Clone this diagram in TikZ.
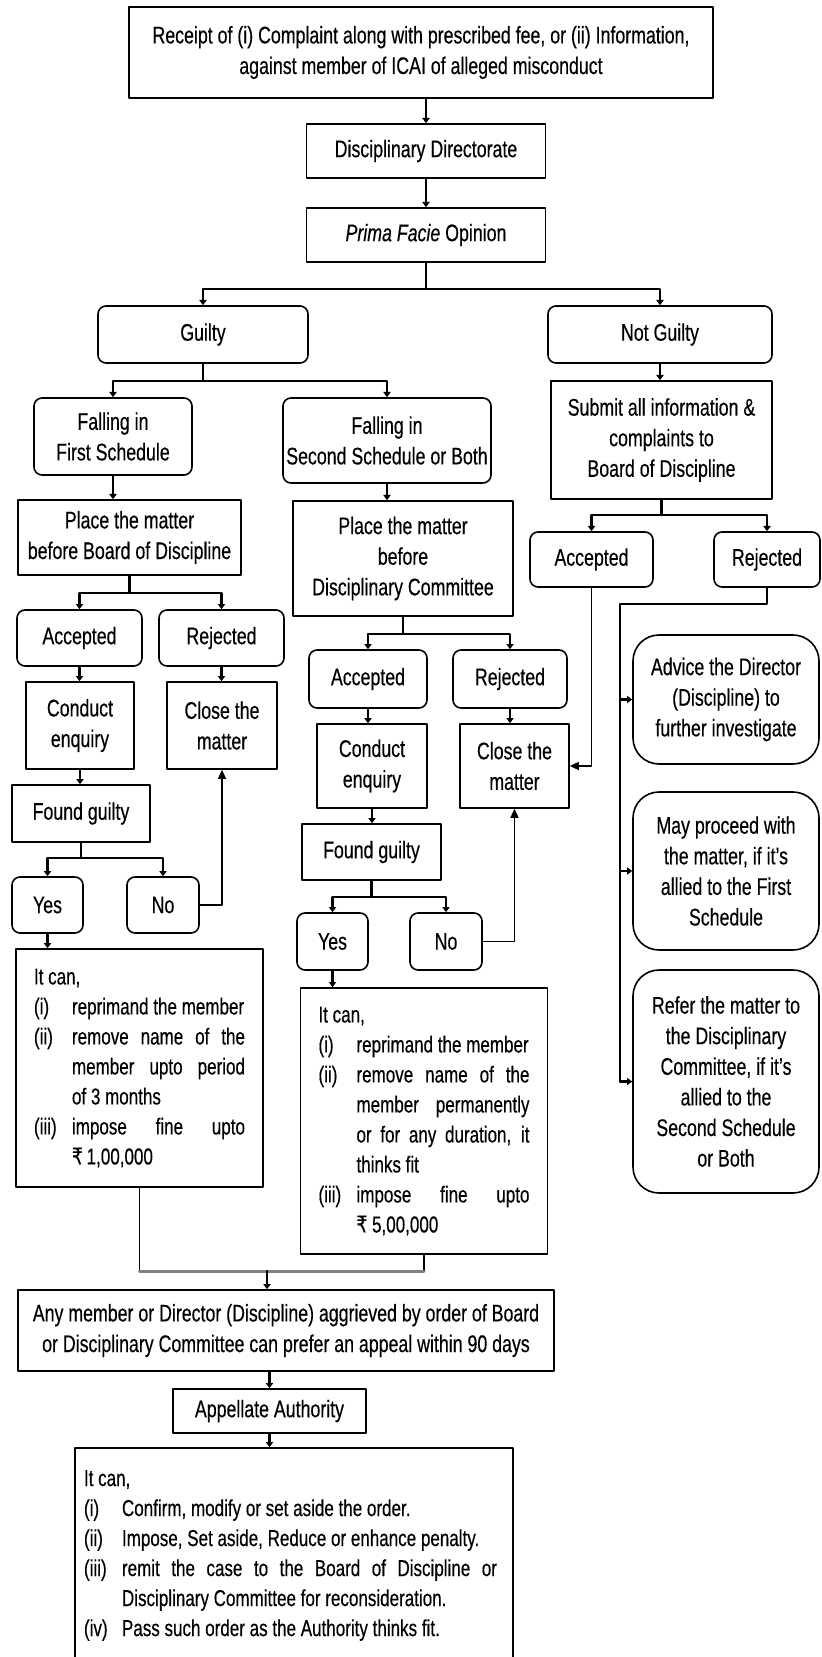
\documentclass[tikz,border=0pt]{standalone}
\usepackage{fontspec}
\setmainfont{Liberation Sans}[FakeStretch=0.74,FakeBold=0.4]
\newfontfamily\rupee{DejaVu Sans}[FakeStretch=0.74,FakeBold=0.4]
\usetikzlibrary{arrows.meta}
\newcommand{\itm}[2]{\makebox[19pt][l]{#1}\mbox{#2}}
\newcommand{\jitm}[3][86.5pt]{\makebox[19pt][l]{#2}\makebox[#1][s]{#3}}
\tikzset{
  box/.style={draw,line width=0.8pt,inner sep=0pt,align=flush center,font=\fontsize{12pt}{15.3pt}\selectfont},
  rbox/.style={box,rounded corners=4pt},
  bigbox/.style={box,rounded corners=13pt},
  listbox/.style={draw,line width=0.8pt,inner xsep=9pt,inner ysep=0pt,align=flush left,font=\fontsize{11.5pt}{15pt}\selectfont},
  trunk/.style={line width=1.2pt,-{Triangle[length=2.6pt,width=3.6pt]}},
  link/.style={line width=0.7pt,-{Triangle[length=4.5pt,width=4pt]}}
}
\begin{document}
\begin{tikzpicture}[line cap=round,line join=round,x=0.5pt,y=-0.5pt]
\useasboundingbox (0,0) rectangle (822,1657);
\node[box,minimum width=292pt,minimum height=45.5pt] (recv) at (421,52.5) {Receipt of (i) Complaint along with prescribed fee, or (ii) Information,\\ against member of ICAI of alleged misconduct};
\node[box,minimum width=119.5pt,minimum height=27pt] (dir) at (426,151) {Disciplinary Directorate};
\node[box,minimum width=119.5pt,minimum height=27pt] (prima) at (426,235) {\textit{Prima Facie} Opinion};
\node[rbox,minimum width=105pt,minimum height=28.5pt] (guilty) at (203,334.5) {Guilty};
\node[rbox,minimum width=112pt,minimum height=28.5pt] (notg) at (660,334.5) {Not Guilty};
\node[rbox,minimum width=79pt,minimum height=38.5pt] (first) at (113,436.5) {Falling in\\First Schedule};
\node[rbox,minimum width=104pt,minimum height=42.5pt] (second) at (387,440.5) {Falling in\\Second Schedule or Both};
\node[box,minimum width=110.5pt,minimum height=59pt] (submit) at (661.5,440) {Submit all information \&\\complaints to\\Board of Discipline};
\node[box,minimum width=111.5pt,minimum height=37.5pt] (placeB) at (129.5,537.5) {Place the matter\\before Board of Discipline};
\node[box,minimum width=110pt,minimum height=57.5pt] (placeD) at (403,558.5) {Place the matter\\before\\Disciplinary Committee};
\node[rbox,minimum width=62.5pt,minimum height=28pt] (bAcc) at (79.5,638) {Accepted};
\node[rbox,minimum width=62.5pt,minimum height=28pt] (bRej) at (221.5,638) {Rejected};
\node[box,minimum width=54pt,minimum height=43.5pt] (bEnq) at (80,725.5) {Conduct\\enquiry};
\node[box,minimum width=55pt,minimum height=43.5pt] (bClose) at (222,725.5) {Close the\\matter};
\node[box,minimum width=69pt,minimum height=28.5pt] (bFound) at (81,813.5) {Found guilty};
\node[rbox,minimum width=35.5pt,minimum height=28pt] (bYes) at (47.5,905) {Yes};
\node[rbox,minimum width=36pt,minimum height=28pt] (bNo) at (163,905) {No};
\node[listbox,text width=105.5pt,minimum height=119pt] (bCan) at (139.5,1068) {It can,\\
\itm{(i)}{reprimand the member}\\
\jitm{(ii)}{remove name of the}\\
\jitm{}{member upto period}\\
\itm{}{of 3 months}\\
\jitm{(iii)}{impose fine upto}\\
\itm{}{{\rupee ₹}\,1,00,000}};
\node[rbox,minimum width=59pt,minimum height=29pt] (dAcc) at (368,679) {Accepted};
\node[rbox,minimum width=57pt,minimum height=29pt] (dRej) at (510,679) {Rejected};
\node[box,minimum width=55pt,minimum height=42pt] (dEnq) at (372,766) {Conduct\\enquiry};
\node[box,minimum width=54.5pt,minimum height=42pt] (dClose) at (514.5,766) {Close the\\matter};
\node[box,minimum width=69.5pt,minimum height=28pt] (dFound) at (371.5,852) {Found guilty};
\node[rbox,minimum width=35.5pt,minimum height=28.5pt] (dYes) at (332.5,941.5) {Yes};
\node[rbox,minimum width=36pt,minimum height=28.5pt] (dNo) at (446,941.5) {No};
\node[listbox,text width=105.5pt,minimum height=133pt] (dCan) at (424,1121) {It can,\\
\itm{(i)}{reprimand the member}\\
\jitm{(ii)}{remove name of the}\\
\jitm{}{member permanently}\\
\jitm{}{or for any duration, it}\\
\itm{}{thinks fit}\\
\jitm{(iii)}{impose fine upto}\\
\itm{}{{\rupee ₹}\ 5,00,000}};
\node[rbox,minimum width=61.5pt,minimum height=27.5pt] (nAcc) at (591.5,559.5) {Accepted};
\node[rbox,minimum width=53pt,minimum height=27.5pt] (nRej) at (767,559.5) {Rejected};
\node[bigbox,minimum width=93pt,minimum height=64.5pt] (advice) at (726,699.5) {Advice the Director\\(Discipline) to\\further investigate};
\node[bigbox,minimum width=93pt,minimum height=79pt] (proceed) at (726,871) {May proceed with\\the matter, if it’s\\allied to the First\\Schedule};
\node[bigbox,minimum width=93pt,minimum height=111.5pt] (refer) at (726,1081.5) {Refer the matter to\\the Disciplinary\\Committee, if it’s\\allied to the\\Second Schedule\\or Both};
\node[box,minimum width=268pt,minimum height=40.5pt] (appeal) at (286,1330.5) {Any member or Director (Discipline) aggrieved by order of Board\\or Disciplinary Committee can prefer an appeal within 90 days};
\node[box,minimum width=96.5pt,minimum height=22pt] (auth) at (269.5,1411) {Appellate Authority};
\node[listbox,inner xsep=4.5pt,text width=210pt,minimum height=107.5pt] (final) at (294,1555.5) {It can,\\
\itm{(i)}{Confirm, modify or set aside the order.}\\
\itm{(ii)}{Impose, Set aside, Reduce or enhance penalty.}\\
\jitm[187.5pt]{(iii)}{remit the case to the Board of Discipline or}\\
\itm{}{Disciplinary Committee for reconsideration.}\\
\itm{(iv)}{Pass such order as the Authority thinks fit.}};
\coordinate (s1) at (426,289);
\coordinate (s2) at (203,381);
\coordinate (s3) at (129.5,593);
\coordinate (s4) at (81,858);
\coordinate (s5) at (403,634);
\coordinate (s6) at (371.5,897);
\coordinate (s7) at (661.5,515);
\coordinate (r1) at (620,604);
\coordinate (r2) at (620,1081.5);
\coordinate (m) at (267,1271);
\draw[trunk] (dir.north |- recv.south) -- (dir.north);
\draw[trunk] (dir) -- (prima);
\draw[trunk,-] (prima) -- (s1);
\draw[trunk] (s1) -| (guilty);
\draw[trunk] (s1) -| (notg);
\draw[trunk,-] (guilty) -- (s2);
\draw[trunk] (s2) -| (first);
\draw[trunk] (s2) -| (second);
\draw[trunk] (first.south) -- (first.south |- placeB.north);
\draw[trunk] (second.south) -- (second.south |- placeD.north);
\draw[trunk] (notg.south) -- (notg.south |- submit.north);
\draw[trunk,-] (placeB) -- (s3);
\draw[trunk] (s3) -| (bAcc);
\draw[trunk] (s3) -| (bRej);
\draw[trunk] (bAcc.south) -- (bAcc.south |- bEnq.north);
\draw[trunk] (bRej.south) -- (bRej.south |- bClose.north);
\draw[trunk] (bEnq.south) -- (bEnq.south |- bFound.north);
\draw[trunk,-] (bFound) -- (s4);
\draw[trunk] (s4) -| (bYes);
\draw[trunk] (s4) -| (bNo);
\draw[link] (bNo.east) -| (bClose.south);
\draw[trunk] (bYes.south) -- (bYes.south |- bCan.north);
\draw[trunk,-] (placeD) -- (s5);
\draw[trunk] (s5) -| (dAcc);
\draw[trunk] (s5) -| (dRej);
\draw[trunk] (dAcc.south) -- (dAcc.south |- dEnq.north);
\draw[trunk] (dRej.south) -- (dRej.south |- dClose.north);
\draw[trunk] (dEnq.south) -- (dEnq.south |- dFound.north);
\draw[trunk,-] (dFound) -- (s6);
\draw[trunk] (s6) -| (dYes);
\draw[trunk] (s6) -| (dNo);
\draw[link] (dNo.east) -| (dClose.south);
\draw[trunk] (dYes.south) -- (dYes.south |- dCan.north);
\draw[trunk,-] (submit) -- (s7);
\draw[trunk] (s7) -| (nAcc);
\draw[trunk] (s7) -| (nRej);
\draw[link] (nAcc.south) |- (dClose.east);
\draw[link,-] (nRej.south) |- (r1) -- (r2);
\draw[trunk] (r1 |- advice.west) -- (advice.west);
\draw[trunk] (r1 |- proceed.west) -- (proceed.west);
\draw[trunk] (r2) -- (refer.west);
\draw[link,-] (bCan.south) -- (bCan.south |- m);
\draw[link,-] (dCan.south) -- (dCan.south |- m);
\draw[gray,line width=1.5pt] (bCan.south |- m) -- (dCan.south |- m);
\draw[trunk] (m) -- (m |- appeal.north);
\draw[trunk] (auth.north |- appeal.south) -- (auth.north);
\draw[trunk] (auth.south) -- (auth.south |- final.north);
\end{tikzpicture}
\end{document}
